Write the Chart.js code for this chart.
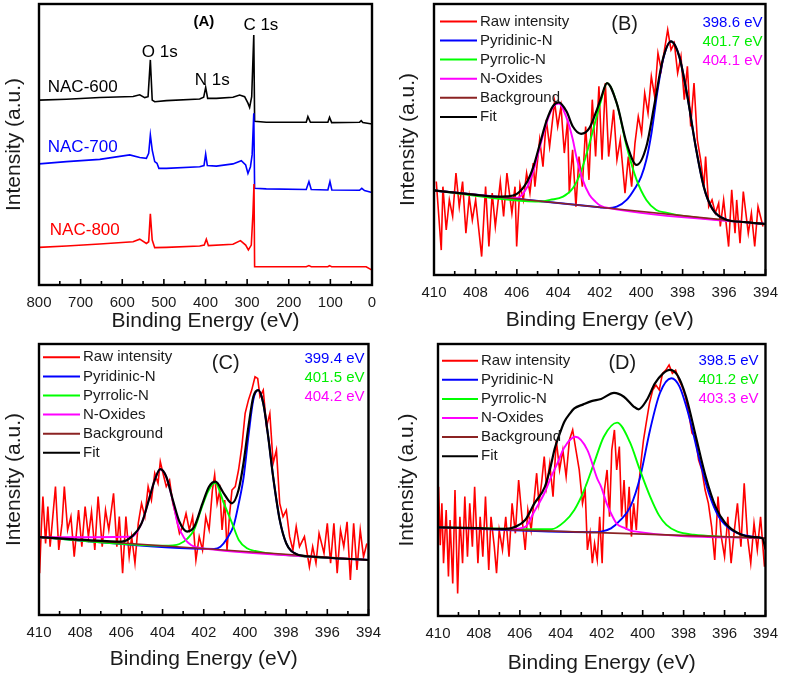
<!DOCTYPE html>
<html><head><meta charset="utf-8">
<script src="https://cdn.jsdelivr.net/npm/chart.js@4.4.0/dist/chart.umd.min.js"></script>
<style>
html,body{margin:0;padding:0;background:#fff;width:787px;height:677px;overflow:hidden;position:relative;}
canvas{position:absolute;}
</style></head><body>
<canvas id="cA" width="390" height="335" style="left:0;top:0"></canvas>
<canvas id="cB" width="397" height="335" style="left:390px;top:0"></canvas>
<canvas id="cC" width="390" height="342" style="left:0;top:335px"></canvas>
<canvas id="cD" width="397" height="342" style="left:390px;top:335px"></canvas>
<script>
// ---------------- DATA ----------------
const samples = ['NAC-600','NAC-700','NAC-800'];
const surveyPeaks = ['O 1s','N 1s','C 1s'];
const components = ['Raw intensity','Pyridinic-N','Pyrrolic-N','N-Oxides','Background','Fit'];
const surveyTicks = [800,700,600,500,400,300,200,100,0];
const xpsTicks = [410,408,406,404,402,400,398,396,394];
const bPeaks = ['398.6 eV','401.7 eV','404.1 eV'];
const cPeaks = ['399.4 eV','401.5 eV','404.2 eV'];
const dPeaks = ['398.5 eV','401.2 eV','403.3 eV'];

// (A) survey spectra
const a600E = [800,734,654,574,558,546,538,532.5,528,522,494,414,404.4,399.6,394.8,374,334,318,306,298,294,289,284,282,254,158,154,148,106,102,97,30,26,22,0];
const a600I = [65.8,66.1,66.7,67.1,67.7,66.7,67.0,80.1,65.8,65.2,65.6,66.2,66.8,70.3,66.4,66.4,66.8,67.6,67.0,64.7,63.2,67.0,89.0,58.3,57.9,57.9,59.9,57.9,57.9,59.7,57.8,57.9,58.5,57.8,57.3];
const a700E = [800,734,654,582,558,542,536.5,532.5,528,522,516.5,512,494,414,403.6,399.6,395.6,374,334,314,303.5,298,292,288,284,282,254,158,151.5,146,106,101,96.5,30,24.5,18,0];
const a700I = [43.1,43.9,44.7,46.3,45.4,45.1,46.9,53.4,48.0,43.9,43.3,41.5,41.5,42.1,42.5,46.6,42.5,42.3,43.1,44.2,42.7,39.7,42.1,46.3,61.1,34.4,34.2,34.0,36.8,34.0,33.8,36.8,33.8,33.7,34.4,33.6,32.9];
const a800E = [800,734,654,574,558,542,536.5,532.5,528,522,494,414,403,398,393,334,316,303.5,297,290,286,283.5,282,254,158,151.5,146,106,102,97,14,0];
const a800I = [13.4,13.9,14.6,15.4,16.3,14.8,15.4,25.3,16.0,13.3,13.4,13.9,14.2,16.3,14.0,14.5,15.8,14.2,12.5,14.2,25.5,35.9,6.5,6.5,6.5,6.9,6.5,6.5,6.9,6.5,6.5,5.3];

// (B) N 1s, NAC-600
const bRawE = [409.89,409.65,409.57,409.41,409.26,409.10,408.94,408.78,408.62,408.46,408.30,408.15,407.99,407.70,407.51,407.35,407.19,407.04,406.80,406.64,406.48,406.24,406.09,406.01,405.85,405.69,405.53,405.37,405.21,405.13,404.90,404.74,404.58,404.42,404.18,404.03,403.87,403.71,403.55,403.47,403.31,403.15,403.00,402.84,402.68,402.52,402.36,402.20,402.04,401.89,401.73,401.57,401.33,401.17,401.01,400.78,400.62,400.46,400.30,400.14,399.98,399.83,399.67,399.51,399.35,399.19,399.03,398.72,398.56,398.40,398.24,398.08,397.92,397.77,397.61,397.45,397.29,397.13,396.97,396.89,396.74,396.58,396.42,396.26,396.18,396.02,395.78,395.63,395.47,395.39,395.23,395.07,394.83,394.68,394.52,394.36,394.12];
const bRawI = [34.5,9.2,32.6,16.6,27.7,21.6,37.6,25.2,34.5,15.4,28.9,20.3,27.7,6.8,32.6,10.5,30.2,17.9,34.5,21.6,37.6,22.8,32.6,10.5,33.3,27.7,37.6,30.2,41.3,32.6,49.9,40.0,57.3,47.4,64.0,54.8,62.2,45.0,57.3,30.2,46.2,25.2,43.7,32.6,54.8,35.1,64.7,43.7,69.6,42.5,70.8,43.7,61.0,42.5,49.9,30.2,43.7,32.6,48.6,58.5,52.3,67.1,59.7,73.3,65.9,81.9,75.7,90.5,83.1,85.6,74.5,80.7,64.7,77.0,54.8,70.8,49.9,42.5,32.6,43.7,25.2,27.7,22.8,26.5,17.9,27.7,10.5,31.4,15.4,27.7,11.7,30.8,15.4,22.8,10.5,25.2,17.9];
const bPyridE = [410,402,401.65,401.18,400.7,400.3,400.0,399.75,399.5,399.2,398.96,398.56,398.16,397.77,397.37,396.98,396.58,395.95,395,394];
const bPyridI = [31.2,25.0,24.7,25.2,27.7,32.0,36.3,42.5,52.5,68.5,79.0,86.2,80.6,65.9,47.4,32.6,24.6,20.6,19.5,18.8];
const bPyrrE = [410,404.8,404.4,403.77,403.3,402.9,402.58,402.19,401.95,401.65,401.18,400.7,400.22,399.75,399.27,398.8,398.3,394];
const bPyrrI = [31.2,27.1,27.7,28.9,32.0,38.2,46.2,57.3,64.0,70.8,63.4,47.4,35.1,27.7,24.0,23.0,22.2,18.8];
const bOxE = [410,407,406,405.5,405.2,404.88,404.55,404.25,403.98,403.6,403.3,403.14,402.82,402.5,402.2,401.95,401.5,394];
const bOxI = [31.2,28.9,28.4,32.5,38.5,47.5,56.5,62.0,63.3,58.0,50.0,44.0,35.1,29.6,27.0,25.5,24.6,18.8];
const bBgE = [410,394];
const bBgI = [31.2,18.8];
const bFitE = [410,409,408,407,406.5,406,405.5,405.2,404.88,404.55,404.25,403.98,403.6,403.3,402.9,402.5,402.2,401.95,401.65,401.18,400.7,400.22,399.75,399.35,398.96,398.56,398.16,397.77,397.37,396.98,396.58,395.95,395,394];
const bFitI = [31.2,30.4,29.6,28.9,29.0,29.9,34.5,40.0,48.6,57.3,62.4,63.7,60.3,54.8,52.1,54.2,59.7,65.0,70.8,63.4,48.6,40.6,47.4,63.4,79.4,86.2,80.6,65.9,47.4,32.6,24.6,20.6,19.5,18.8];

// (C) N 1s, NAC-700
const cRawE = [409.97,409.89,409.81,409.68,409.57,409.46,409.33,409.20,409.04,408.88,408.77,408.61,408.45,408.29,408.08,407.92,407.76,407.60,407.45,407.29,407.13,406.93,406.77,406.61,406.38,406.22,406.10,405.94,405.78,405.62,405.50,405.34,405.18,405.02,404.86,404.70,404.54,404.38,404.22,404.11,403.98,403.82,403.66,403.50,403.34,403.18,403.02,402.86,402.70,402.54,402.38,402.22,402.06,401.90,401.74,401.58,401.47,401.35,401.22,401.11,400.98,400.87,400.74,400.63,400.47,400.31,400.15,399.99,399.83,399.67,399.51,399.38,399.27,399.11,398.95,398.79,398.63,398.47,398.31,398.15,397.99,397.83,397.67,397.51,397.35,397.11,396.87,396.71,396.55,396.40,396.16,396.00,395.84,395.68,395.52,395.36,395.20,395.04,394.88,394.72,394.56,394.40,394.24,394.08];
const cRawI = [15.4,31.4,43.7,26.4,40.0,25.2,36.3,47.4,24.0,33.8,47.4,31.4,36.3,21.5,38.7,25.2,40.0,28.9,38.1,24.0,43.7,25.2,38.7,31.4,44.9,25.2,36.3,15.4,36.3,21.5,28.9,19.1,33.8,41.2,36.3,47.4,42.4,52.3,48.6,56.6,52.3,47.4,49.8,41.2,36.3,30.1,32.6,37.5,31.4,36.3,20.3,28.9,24.0,36.3,31.4,46.1,51.7,41.2,46.1,31.4,42.4,24.0,37.5,46.1,47.4,53.5,62.1,74.4,79.3,83.0,87.9,87.3,80.6,83.0,69.5,74.4,56.0,60.9,41.2,36.3,38.7,28.9,24.0,32.6,25.2,28.9,17.8,25.2,19.1,30.1,22.8,33.8,19.1,33.8,15.4,31.4,25.2,34.4,12.9,33.8,16.6,31.4,21.5,26.4];
const cPyridE = [410,401.5,401.19,400.86,400.54,400.3,400.06,399.83,399.59,399.35,399.11,398.87,398.63,398.31,397.99,397.51,396.71,394];
const cPyridI = [28.7,24.4,25.2,28.3,33.2,41.2,51.0,66.0,79.5,83.0,78.1,65.8,51.0,35.1,26.4,22.5,21.5,20.3];
const cPyrrE = [410,404,403.5,403.18,402.78,402.46,402.14,401.8,401.45,401.02,400.62,400.3,399.9,399.5,399,394];
const cPyrrI = [28.7,25.6,25.7,26.2,28.3,31.6,38.7,45.5,48.8,41.2,33.8,27.7,24.6,23.6,22.9,20.3];
const cOxE = [410,405.5,405.02,404.62,404.38,404.11,403.82,403.5,403.26,402.94,402.62,402.3,402,394];
const cOxI = [28.7,28.9,33.8,43.7,49.8,53.8,51.0,42.0,33.5,28.3,25.8,24.9,24.5,20.3];
const cBgE = [410,394];
const cBgI = [28.7,20.3];
const cFitE = [410,406.5,405.98,405.5,405.02,404.62,404.38,404.11,403.82,403.5,403.18,402.81,402.46,402.06,401.74,401.43,401.03,400.63,400.31,400.07,399.83,399.59,399.35,399.11,398.87,398.63,398.31,397.99,397.51,396.71,394];
const cFitI = [28.7,27.2,27.1,28.9,33.8,43.7,49.8,53.8,51.0,42.4,34.4,30.8,32.6,41.2,47.4,49.2,44.9,41.2,46.1,56.0,69.5,80.6,83.0,78.1,65.8,51.0,35.1,26.4,22.5,21.5,20.3];

// (D) N 1s, NAC-800
const dRawE = [409.97,409.89,409.81,409.73,409.60,409.49,409.41,409.28,409.17,409.04,408.93,408.80,408.69,408.56,408.45,408.32,408.21,408.05,407.94,407.81,407.68,407.52,407.41,407.25,407.14,407.01,406.85,406.69,406.53,406.38,406.22,406.06,405.90,405.74,405.61,405.45,405.29,405.18,405.07,404.94,404.81,404.70,404.54,404.38,404.22,404.06,403.90,403.74,403.58,403.42,403.26,403.10,402.94,402.81,402.70,402.57,402.46,402.35,402.22,402.10,401.98,401.87,401.74,401.62,401.51,401.38,401.27,401.14,401.03,400.91,400.79,400.66,400.55,400.44,400.31,400.18,400.07,399.96,399.83,399.67,399.51,399.35,399.19,399.03,398.87,398.71,398.55,398.39,398.23,398.07,397.91,397.75,397.59,397.43,397.27,397.11,396.95,396.79,396.63,396.48,396.32,396.16,396.00,395.84,395.68,395.52,395.37,395.20,395.04,394.88,394.72,394.56,394.40,394.24,394.05];
const dRawI = [47.5,26.0,41.4,19.4,39.0,14.5,35.3,12.0,46.3,8.3,36.5,19.4,43.9,21.8,41.4,25.5,47.5,19.4,36.5,21.8,43.9,16.9,36.5,25.5,15.7,31.6,24.3,36.5,21.8,41.4,30.4,50.0,36.5,24.3,39.0,31.6,43.9,52.5,41.4,48.8,58.6,47.5,56.1,43.9,64.7,53.7,61.0,51.2,64.7,68.4,61.0,53.7,41.4,46.3,24.3,30.4,19.4,26.7,20.6,36.5,19.4,46.3,53.7,36.5,61.0,68.4,53.7,62.3,36.5,50.0,31.6,47.5,29.2,41.4,31.6,48.8,57.4,64.7,70.8,78.2,83.1,84.9,83.1,89.2,90.4,92.3,89.2,90.4,86.8,84.3,80.6,74.5,67.2,65.9,57.4,53.7,46.3,41.4,32.8,20.6,43.9,29.2,21.8,36.5,19.4,31.6,41.4,25.5,48.8,29.2,19.4,34.1,24.3,36.5,18.1];
const dPyridE = [410,402.5,402.03,401.55,401.08,400.6,400.12,399.64,399.16,398.6,398.2,397.72,397.24,396.76,396.28,395.64,394.84,394];
const dPyridI = [32.6,30.8,31.0,32.2,35.3,40.2,51.2,68.4,81.9,87.4,84.3,73.0,58.0,45.0,36.5,31.5,29.4,28.6];
const dPyrrE = [410,404.46,403.82,403.34,402.86,402.38,401.9,401.25,400.63,400.15,399.64,399.2,398.84,398.3,397.5,394];
const dPyrrI = [32.6,31.9,34.7,39.0,46.3,56.1,65.9,71.1,64.0,54.0,44.0,37.0,33.5,31.0,29.9,28.6];
const dOxE = [410,406.5,405.74,405.29,404.78,404.51,404.17,403.85,403.29,402.7,402.22,402.03,401.74,401.55,401.27,400.92,400.5,394];
const dOxI = [32.6,31.9,32.8,38.5,45.5,50.5,56.1,61.7,65.9,61.0,50.5,47.5,41.0,37.8,34.0,32.5,31.2,28.6];
const dBgE = [410,394];
const dBgI = [32.6,28.6];
const dFitE = [410,408,406.69,406.22,405.74,405.29,404.78,404.51,404.3,404.03,403.82,403.55,403.34,402.9,402.5,402.03,401.4,400.92,400.44,400.2,399.8,399.4,399.0,398.68,398.3,397.88,397.4,396.92,396.44,395.96,395.33,394.6,394.15,394.0];
const dFitI = [32.6,32.3,32.0,32.8,35.3,41.4,47.5,54.5,61.5,67.5,71.5,74.5,76.3,77.8,79.0,79.8,82.0,80.6,77.0,76.0,79.4,85.5,89.2,90.5,88.5,80.6,65.9,51.2,40.2,34.1,30.4,29.0,28.6,24.5];

// ---------------- RENDERING ----------------
const FONT = "'Liberation Sans', Arial, sans-serif";
Chart.defaults.font.family = FONT;
Chart.defaults.color = '#1a1a1a';
const pts = (E, I) => E.map((e, i) => ({x: e, y: I[i]}));
const COLORS = ['#ff0000', '#0000ff', '#00ff00', '#ff00ff', '#8b2323', '#000000'];
const WIDTHS = [1.6, 1.9, 1.9, 1.9, 1.7, 2.2];

const framePlugin = {
  id: 'frame',
  afterDatasetsDraw(chart, args, o) {
    const {ctx, chartArea: a} = chart;
    const x = chart.scales.x;
    ctx.save();
    ctx.strokeStyle = '#000';
    ctx.lineWidth = 1.6;
    for (let v = o.min; v <= o.max + 1e-9; v += o.minor) {
      const px = x.getPixelForValue(v);
      const r = (v - o.min) / o.major;
      const major = Math.abs(r - Math.round(r)) < 1e-6;
      const len = major ? 6 : 4;
      ctx.beginPath(); ctx.moveTo(px, a.bottom); ctx.lineTo(px, a.bottom - len); ctx.stroke();
    }
    ctx.lineWidth = 2.4;
    ctx.strokeRect(a.left, a.top, a.right - a.left, a.bottom - a.top);
    ctx.restore();
  }
};

const notesPlugin = {
  id: 'notes',
  afterDraw(chart, args, o) {
    if (!o.items) return;
    const {ctx} = chart;
    const x = chart.scales.x, y = chart.scales.y;
    ctx.save();
    ctx.textBaseline = 'middle';
    o.items.forEach(it => {
      ctx.font = (it.bold ? 'bold ' : '') + it.size + 'px ' + FONT;
      ctx.fillStyle = it.color;
      ctx.textAlign = it.align;
      ctx.fillText(it.text, x.getPixelForValue(it.x), y.getPixelForValue(it.y));
    });
    ctx.restore();
  }
};

const xpsLegendPlugin = {
  id: 'xpsLegend',
  afterDraw(chart, args, o) {
    if (!o.show) return;
    const {ctx, chartArea: a} = chart;
    ctx.save();
    ctx.textBaseline = 'middle';
    ctx.font = '15px ' + FONT;
    chart.data.datasets.forEach((ds, i) => {
      const yy = a.top + o.dy + i * 19.1;
      ctx.strokeStyle = ds.borderColor; ctx.lineWidth = 2;
      ctx.beginPath(); ctx.moveTo(a.left + o.x0, yy); ctx.lineTo(a.left + o.x1, yy); ctx.stroke();
      ctx.fillStyle = '#1a1a1a'; ctx.textAlign = 'left';
      ctx.fillText(ds.label, a.left + o.tx, yy);
    });
    ctx.textAlign = 'right';
    o.peaks.forEach((p, i) => {
      ctx.fillStyle = ['#0000ff', '#00ee00', '#ff00ff'][i];
      ctx.fillText(p, a.right - o.pr, a.top + o.py + i * 19);
    });
    ctx.textAlign = 'center';
    ctx.font = '20px ' + FONT;
    ctx.fillStyle = '#1a1a1a';
    ctx.fillText(o.letter, a.left + o.lx, a.top + o.ly);
    ctx.restore();
  }
};

function makeChart(id, p, datasets, plugins) {
  return new Chart(document.getElementById(id), {
    type: 'line',
    data: {datasets},
    options: {
      responsive: false, animation: false, devicePixelRatio: 1,
      layout: {padding: {top: p.padTop, right: p.padRight, left: 0, bottom: 0}},
      elements: {point: {radius: 0}, line: {fill: false}},
      plugins: Object.assign({legend: {display: false}, tooltip: {enabled: false}}, plugins),
      scales: {
        x: {
          type: 'linear', min: p.min, max: p.max, reverse: true,
          afterFit: s => { s.height = p.xH; },
          afterBuildTicks: s => { s.ticks = p.ticks.map(v => ({value: v})); },
          grid: {display: false, drawTicks: false}, border: {display: false},
          ticks: {autoSkip: false, maxRotation: 0, padding: p.tickPad, font: {size: 15}, color: '#1a1a1a'},
          title: {display: true, text: 'Binding Energy (eV)', font: {size: 21}, color: '#1a1a1a', padding: {top: 0, bottom: p.xTitlePad}}
        },
        y: {
          min: 0, max: 100,
          afterFit: s => { s.width = p.yW; },
          ticks: {display: false}, grid: {display: false, drawTicks: false}, border: {display: false},
          title: {display: true, text: 'Intensity (a.u.)', font: {size: 21}, color: '#1a1a1a', padding: {top: p.yTitlePad, bottom: 0}}
        }
      }
    },
    plugins: [framePlugin, notesPlugin, xpsLegendPlugin]
  });
}

// Panel A
makeChart('cA',
  {padTop: 4, padRight: 18, yW: 39, xH: 50, tickPad: 9, xTitlePad: 1.5, yTitlePad: 1.5, min: 0, max: 800, ticks: surveyTicks},
  [
    {label: samples[0], data: pts(a600E, a600I), borderColor: '#000000', borderWidth: 1.6, tension: 0, order: 2},
    {label: samples[1], data: pts(a700E, a700I), borderColor: '#0000ff', borderWidth: 1.6, tension: 0, order: 1},
    {label: samples[2], data: pts(a800E, a800I), borderColor: '#ff0000', borderWidth: 1.6, tension: 0, order: 0}
  ],
  {
    frame: {min: 0, max: 800, major: 100, minor: 50},
    notes: {items: [
      {text: samples[0], x: 779, y: 70.5, color: '#000', size: 17, align: 'left'},
      {text: samples[1], x: 779, y: 49.1, color: '#0000ff', size: 17, align: 'left'},
      {text: samples[2], x: 774, y: 19.6, color: '#ff0000', size: 17, align: 'left'},
      {text: surveyPeaks[0], x: 510, y: 82.9, color: '#000', size: 17, align: 'center'},
      {text: surveyPeaks[1], x: 384, y: 73, color: '#000', size: 17, align: 'center'},
      {text: surveyPeaks[2], x: 267, y: 92.5, color: '#000', size: 17, align: 'center'},
      {text: '(A)', x: 404, y: 93.6, color: '#000', size: 15, align: 'center', bold: true}
    ]},
    xpsLegend: {show: false}
  });

function xpsSets(rE, rI, pyE, pyI, prE, prI, oxE, oxI, bgE, bgI, fE, fI) {
  const series = [[rE, rI], [pyE, pyI], [prE, prI], [oxE, oxI], [bgE, bgI], [fE, fI]];
  return series.map((s, i) => ({
    label: components[i], data: pts(s[0], s[1]), borderColor: COLORS[i], borderWidth: WIDTHS[i],
    tension: 0, cubicInterpolationMode: i === 0 ? 'default' : 'monotone', order: 5 - i
  }));
}
const xpsFrame = {min: 394, max: 410, major: 2, minor: 1};

makeChart('cB',
  {padTop: 4, padRight: 16, yW: 44, xH: 60, tickPad: 9, xTitlePad: 2, yTitlePad: 6, min: 394, max: 410, ticks: xpsTicks},
  xpsSets(bRawE, bRawI, bPyridE, bPyridI, bPyrrE, bPyrrI, bOxE, bOxI, bBgE, bBgI, bFitE, bFitI),
  {frame: xpsFrame, xpsLegend: {show: true, dy: 17.4, x0: 6, x1: 43, tx: 46, peaks: bPeaks, pr: 3, py: 19, letter: '(B)', lx: 190.7, ly: 20.7}});

makeChart('cC',
  {padTop: 9, padRight: 17, yW: 39, xH: 62, tickPad: 9, xTitlePad: 5.5, yTitlePad: 1.5, min: 394, max: 410, ticks: xpsTicks},
  xpsSets(cRawE, cRawI, cPyridE, cPyridI, cPyrrE, cPyrrI, cOxE, cOxI, cBgE, cBgI, cFitE, cFitI),
  {frame: xpsFrame, xpsLegend: {show: true, dy: 13.3, x0: 4, x1: 41, tx: 44, peaks: cPeaks, pr: 4, py: 15, letter: '(C)', lx: 186.7, ly: 19}});

makeChart('cD',
  {padTop: 9, padRight: 15, yW: 48, xH: 61, tickPad: 9, xTitlePad: 1, yTitlePad: 4.5, min: 394, max: 410, ticks: xpsTicks},
  xpsSets(dRawE, dRawI, dPyridE, dPyridI, dPyrrE, dPyrrI, dOxE, dOxI, dBgE, dBgI, dFitE, dFitI),
  {frame: xpsFrame, xpsLegend: {show: true, dy: 16.7, x0: 4, x1: 40, tx: 43, peaks: dPeaks, pr: 7, py: 16.7, letter: '(D)', lx: 184.3, ly: 19}});
</script></body></html>
